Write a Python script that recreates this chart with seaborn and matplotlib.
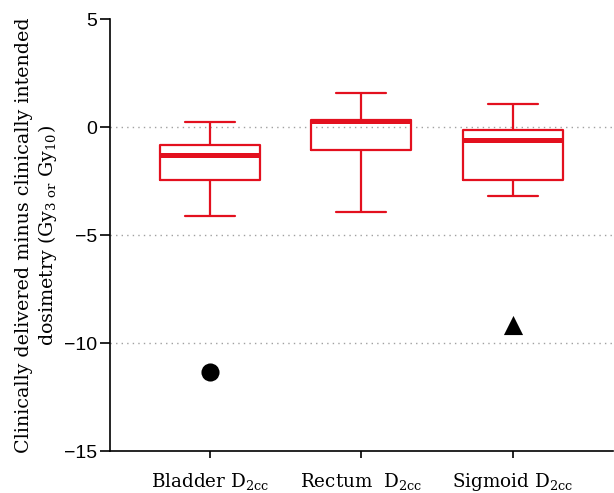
import matplotlib
matplotlib.use('Agg')
import matplotlib.pyplot as plt
import pandas as pd
import seaborn as sns

# five-number summaries (min, Q1, median, Q3, max)
organs = ['Bladder', 'Rectum', 'Sigmoid']
bladder = [-4.1, -2.45, -1.27, -0.84, 0.25]
rectum = [-3.92, -1.04, 0.28, 0.33, 1.58]
sigmoid = [-3.17, -2.45, -0.58, -0.15, 1.07]
tick_labels = ['Bladder D$_{\\mathregular{2cc}}$',
               'Rectum  D$_{\\mathregular{2cc}}$',
               'Sigmoid D$_{\\mathregular{2cc}}$']
# outliers
outlier_organs = ['Bladder', 'Sigmoid']
outlier_values = [-11.32, -9.15]
outlier_markers = ['o', '^']

red = '#e3101e'

df = pd.DataFrame({
    'organ': [o for o, v in zip(organs, [bladder, rectum, sigmoid]) for _ in v],
    'value': bladder + rectum + sigmoid,
})

sns.set_style('white')
plt.rcParams['font.family'] = ['DejaVu Serif']
plt.rcParams['text.color'] = 'black'
plt.rcParams['xtick.color'] = 'black'
plt.rcParams['ytick.color'] = 'black'
plt.rcParams['axes.labelcolor'] = 'black'

fig = plt.figure(figsize=(6.14, 4.93), dpi=100)
ax = fig.add_axes([0.179, 0.085, 0.819, 0.876])

sns.boxplot(data=df, x='organ', y='value', order=organs, whis=(0, 100),
            width=0.66, fill=False, color=red, linewidth=1.6,
            medianprops=dict(linewidth=3.6, color=red),
            capprops=dict(color=red), whiskerprops=dict(color=red),
            boxprops=dict(color=red), showfliers=False, ax=ax)

for org, val, mk in zip(outlier_organs, outlier_values, outlier_markers):
    ax.scatter([organs.index(org)], [val], marker=mk, s=170 if mk == 'o' else 190,
               color='black', zorder=5, linewidths=0)

ax.set_ylim(-15, 5)
ax.set_xlim(-0.66, 2.66)
ax.set_yticks([5, 0, -5, -10, -15])
ax.set_yticklabels(['5', '0', '\u22125', '\u221210', '\u221215'],
                   family='Liberation Sans', fontsize=14)
ax.set_xticks(range(3))
ax.set_xticklabels(tick_labels, fontsize=13.2)
ax.set_xlabel('')
ax.set_ylabel('Clinically delivered minus clinically intended\n'
              'dosimetry (Gy$_{\\mathregular{3\\ or}}$ Gy$_{\\mathregular{10}}$)',
              fontsize=13.7, labelpad=4, linespacing=1.15)

for y in [0, -5, -10]:
    ax.axhline(y, color='#a0a0a0', linestyle=(0, (1, 3)), linewidth=1, zorder=0)

sns.despine(ax=ax)
for s in ['left', 'bottom']:
    ax.spines[s].set_color('black')
    ax.spines[s].set_linewidth(1.2)
ax.tick_params(axis='y', direction='out', length=7, width=1.2, left=True, pad=2)
ax.tick_params(axis='x', direction='out', length=5, width=1.2, bottom=True, pad=9)

fig.savefig('out.png', dpi=100)
